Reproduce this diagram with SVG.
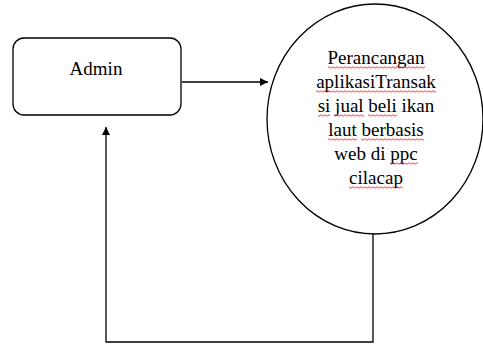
<svg xmlns="http://www.w3.org/2000/svg" width="483" height="344" viewBox="0 0 483 344">
<style>
.shape{fill:#fff;stroke:#000;stroke-width:1.3}
.line{fill:none;stroke:#000;stroke-width:1.3}
.lbl{font-family:"Liberation Serif","Times New Roman",serif;font-size:19px;fill:#000;text-anchor:middle}
.sq{fill:url(#wave)}
</style>
<defs>
<marker id="arr" viewBox="0 0 10 10" refX="10" refY="5" markerWidth="8" markerHeight="8" markerUnits="userSpaceOnUse" orient="auto">
<path d="M0 0 L10 5 L0 10 Z" fill="#000"/>
</marker>
<pattern id="wave" patternUnits="userSpaceOnUse" x="0" y="0" width="4" height="3">
<path d="M0 1.5 Q1 0 2 1.5 T4 1.5" fill="none" stroke="#e01010" stroke-width="0.8"/>
</pattern>
</defs>
<g id="connectors">
<line class="line" x1="182" y1="82" x2="268" y2="82" marker-end="url(#arr)"/>
<polyline class="line" points="373,234 373,342 106,342 106,127" marker-end="url(#arr)"/>
</g>
<g id="admin">
<rect class="shape" x="13" y="38" width="168" height="77" rx="11" ry="11"/>
<text class="lbl" x="96" y="75">Admin</text>
</g>
<g id="process">
<ellipse class="shape" cx="375" cy="119" rx="108" ry="115"/>
<text class="lbl" x="376" y="63.5">Perancangan</text>
<text class="lbl" x="376" y="87.5">aplikasiTransak</text>
<text class="lbl" x="376" y="111.5">si jual beli ikan</text>
<text class="lbl" x="376" y="135.5">laut berbasis</text>
<text class="lbl" x="376" y="159.5">web di ppc</text>
<text class="lbl" x="376" y="183.5">cilacap</text>
<g id="spellmarks">
<rect class="sq" x="328" y="66" width="97" height="3"/>
<rect class="sq" x="316" y="90" width="120" height="3"/>
<rect class="sq" x="318" y="114" width="12" height="3"/>
<rect class="sq" x="335" y="114" width="29" height="3"/>
<rect class="sq" x="368" y="114" width="29" height="3"/>
<rect class="sq" x="328" y="138" width="29" height="3"/>
<rect class="sq" x="361" y="138" width="63" height="3"/>
<rect class="sq" x="390" y="162" width="28" height="3"/>
<rect class="sq" x="349" y="186" width="54" height="3"/>
</g>
</g>
</svg>
